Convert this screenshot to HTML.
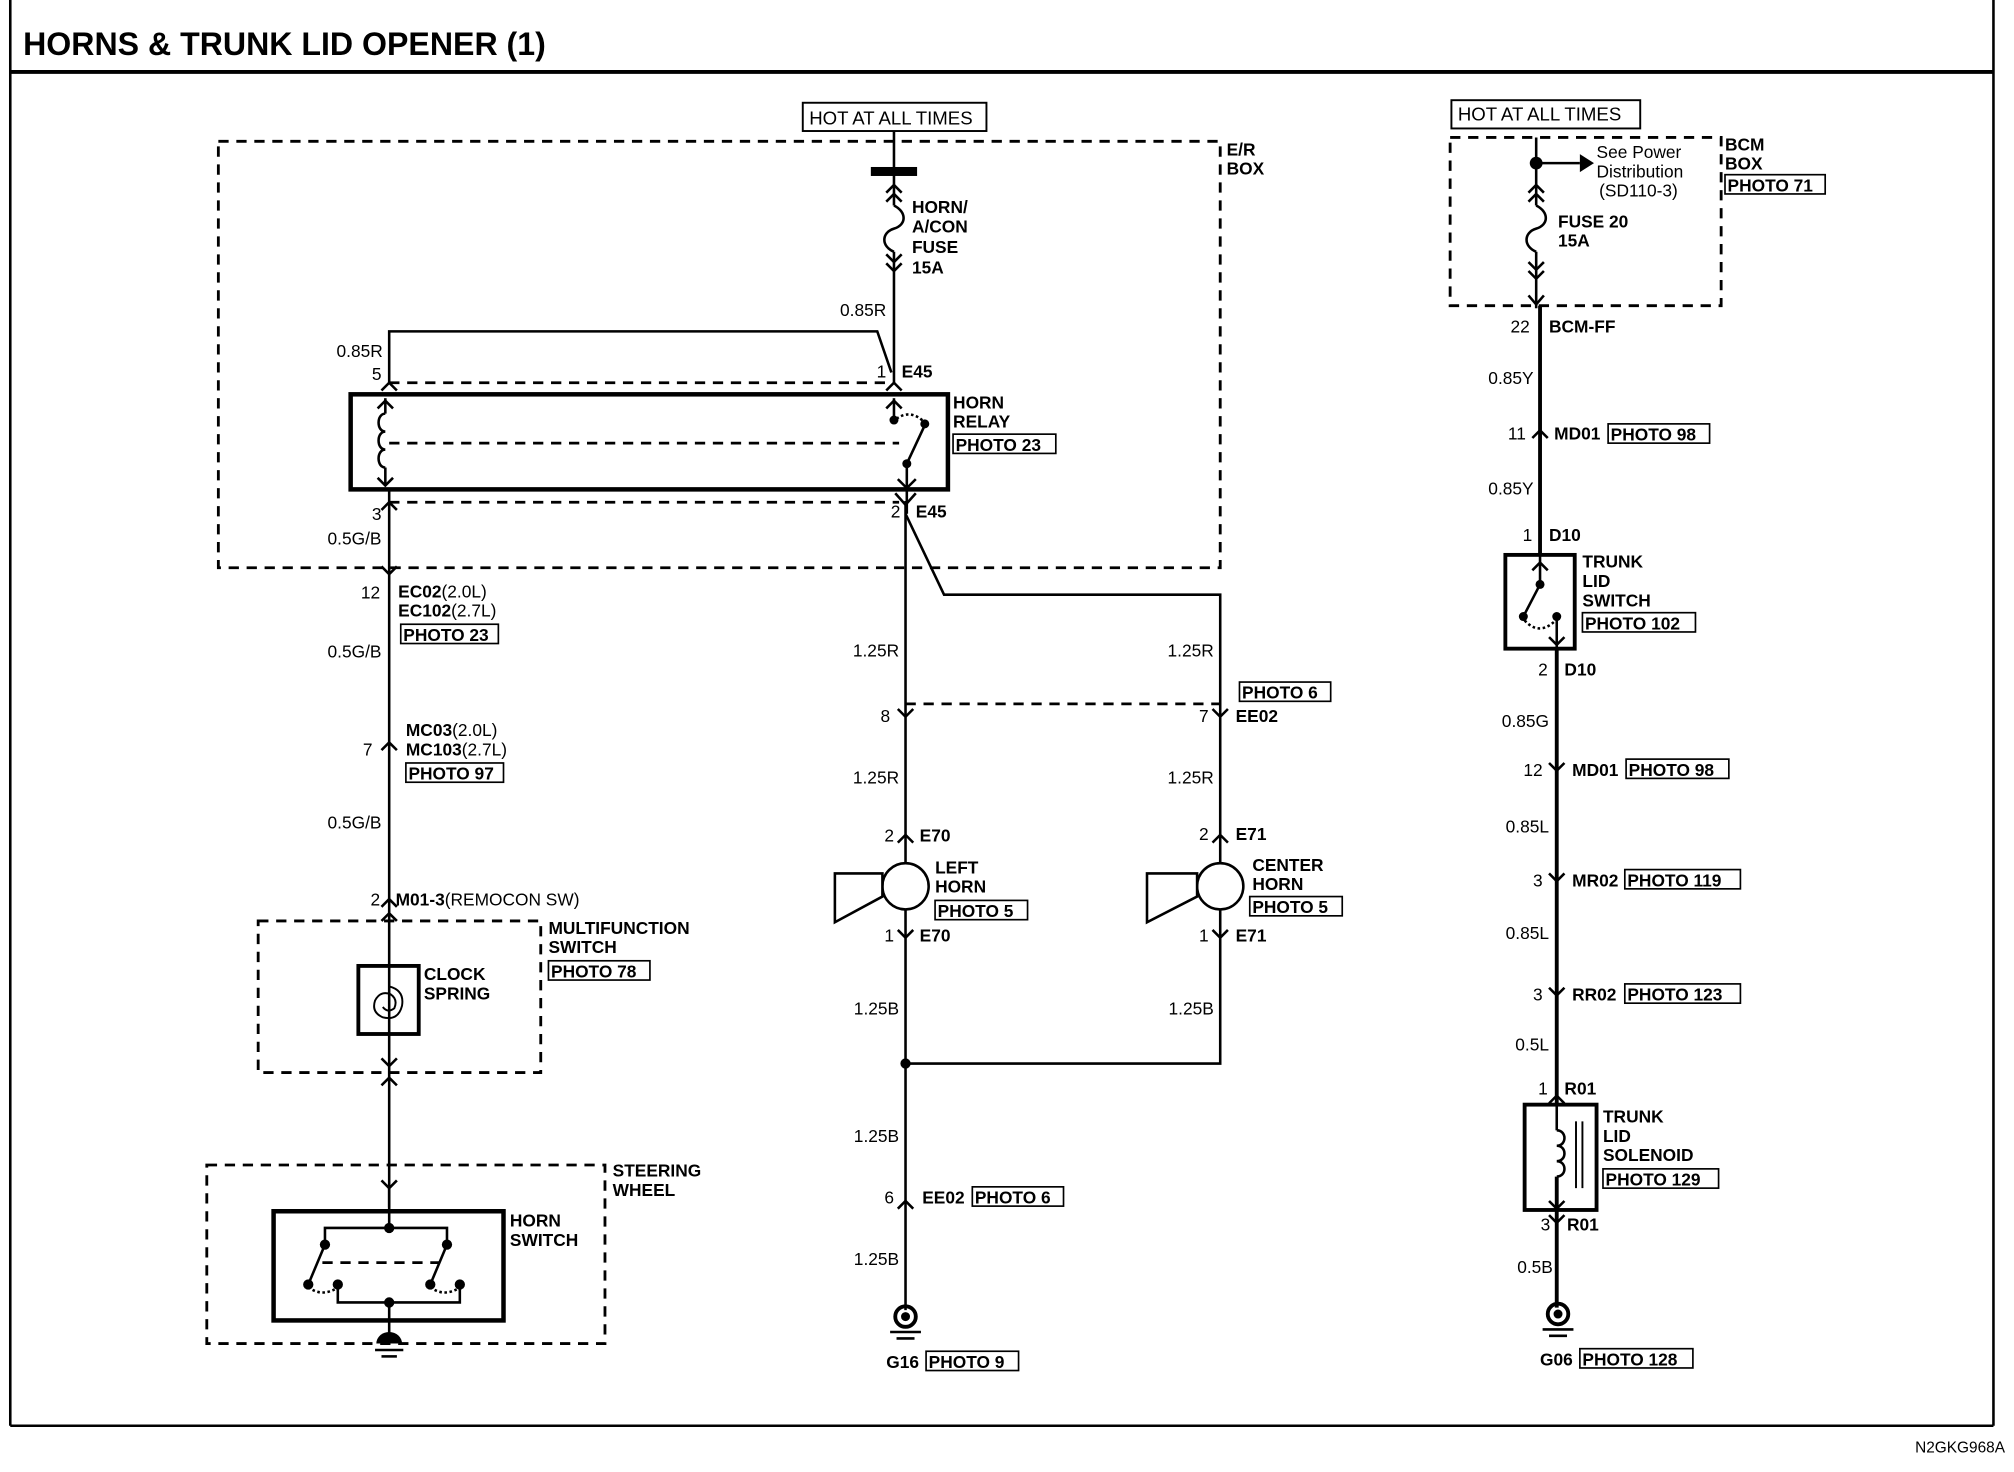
<!DOCTYPE html>
<html><head><meta charset="utf-8"><style>
html,body{margin:0;padding:0;background:#fff;}
svg{display:block;}
text{font-family:"Liberation Sans",Arial,sans-serif;font-weight:bold;font-size:13.5px;fill:#000;}
.n{font-weight:normal;}
.r{text-anchor:end;}
</style></head><body>
<svg width="2014" height="1472" viewBox="0 0 1568 1146" preserveAspectRatio="none" xmlns="http://www.w3.org/2000/svg">
<g fill="none" stroke="#000" stroke-width="2">
<!-- frame -->
<line x1="8" y1="0" x2="8" y2="1110"/>
<line x1="1552" y1="0" x2="1552" y2="1110"/>
<line x1="8" y1="56" x2="1552" y2="56" stroke-width="3"/>
<line x1="8" y1="1110" x2="1552" y2="1110"/>
<!-- HOT boxes -->
<rect x="625" y="80" width="143" height="22" stroke-width="1.5"/>
<rect x="1130" y="78" width="147" height="22" stroke-width="1.5"/>
<!-- dashed boxes -->
<g stroke-dasharray="8,6" stroke-width="2.2">
<rect x="170" y="110" width="780" height="332"/>
<rect x="1129" y="107" width="211" height="131"/>
<rect x="201" y="717" width="220" height="118"/>
<rect x="161" y="907" width="310" height="139"/>
<line x1="303" y1="298" x2="690" y2="298"/>
<line x1="303" y1="345" x2="700" y2="345"/>
<line x1="303" y1="391" x2="700" y2="391"/>
<line x1="705" y1="548" x2="950" y2="548"/>
<line x1="251" y1="983" x2="342" y2="983"/>
</g>
<!-- ER fuse -->
<line x1="696" y1="102" x2="696" y2="131"/>
<line x1="696" y1="136" x2="696" y2="160"/>
<path d="M690,150 L696,144 L702,150 M690,157 L696,151 L702,157"/>
<path d="M696,160 C706,165 706,175 696,178 C686,181 686,192 696,196"/>
<line x1="696" y1="196" x2="696" y2="298"/>
<path d="M690,198 L696,204 L702,198 M690,205 L696,211 L702,205"/>
<path d="M690,304 L696,298 L702,304"/>
<!-- pin5 wire -->
<path d="M303,298 L303,258 L683,258 L694,290"/>
<path d="M297,304 L303,298 L309,304"/>
<!-- relay -->
<rect x="273" y="307" width="465" height="74" stroke-width="3.5"/>
<line x1="300" y1="310" x2="300" y2="322"/>
<path d="M300,322 c-7,0 -7,14 0,14 c-7,0 -7,14 0,14 c-7,0 -7,14 0,14"/>
<line x1="300" y1="364" x2="300" y2="378"/>
<path d="M294,318 L300,312 L306,318 M294,372 L300,378 L306,372"/>
<line x1="696" y1="310" x2="696" y2="327"/>
<path d="M690,318 L696,312 L702,318"/>
<path d="M698,326 Q709,318 720,329" stroke-dasharray="2,2"/>
<line x1="706" y1="361" x2="720" y2="331"/>
<line x1="706" y1="361" x2="706" y2="400"/>
<path d="M699,373 L706,380 L713,373"/>
<line x1="303" y1="381" x2="303" y2="940"/>
<path d="M297,397 L303,391 L309,397"/>
<path d="M697,384 L705,393 L713,384"/>
<!-- left connectors -->
<path d="M297,441 L303,447 L309,441"/>
<path d="M297,584 L303,578 L309,584"/>
<path d="M297,706 L303,700 L309,706"/>
<path d="M297,717 L303,711 L309,717"/>
<path d="M297,824 L303,830 L309,824"/>
<path d="M297,845 L303,839 L309,845"/>
<path d="M297,919 L303,925 L309,919"/>
<rect x="279" y="752" width="47" height="53" stroke-width="3"/>
<path d="M303,768 Q315,771 313,783 Q310,795 298,792 Q289,788 292,779 Q296,771 304,774 Q310,778 307,785 Q302,789 298,784" stroke-width="1.5"/>
<!-- horn switch -->
<rect x="213" y="943" width="179" height="85" stroke-width="3.5"/>
<path d="M303,925 L303,956 M253,969 L253,956 L348,956 L348,969 M253,969 L240,1000 M348,969 L335,1000 M263,1000 L263,1014 L358,1014 L358,1000 M303,1014 L303,1040"/>
<path d="M240,1002 Q250,1010 262,1003 M335,1002 Q345,1010 357,1003" stroke-dasharray="2,2"/>
<!-- middle -->
<line x1="705" y1="390" x2="705" y2="1020"/>
<path d="M705,400 L735,463 L950,463 L950,828 L705,828"/>
<path d="M699,552 L705,558 L711,552 M944,552 L950,558 L956,552"/>
<path d="M699,656 L705,650 L711,656 M944,656 L950,650 L956,656"/>
<path d="M699,724 L705,730 L711,724 M944,724 L950,730 L956,724"/>
<path d="M699,941 L705,935 L711,941"/>
<circle cx="705" cy="690" r="18" fill="#fff"/>
<circle cx="950" cy="690" r="18" fill="#fff"/>
<path d="M650,680 L687,680 L687,698 L650,718 Z" fill="#fff"/>
<path d="M893,680 L932,680 L932,698 L893,718 Z" fill="#fff"/>
<!-- right -->
<line x1="1196" y1="107" x2="1196" y2="160"/>
<line x1="1196" y1="127" x2="1230" y2="127"/>
<path d="M1190,150 L1196,144 L1202,150 M1190,157 L1196,151 L1202,157"/>
<path d="M1196,160 C1206,165 1206,175 1196,178 C1186,181 1186,192 1196,196"/>
<line x1="1196" y1="196" x2="1196" y2="240"/>
<path d="M1190,204 L1196,210 L1202,204 M1190,211 L1196,217 L1202,211 M1190,230 L1196,237 L1202,230"/>
<line x1="1199" y1="238" x2="1199" y2="432" stroke-width="3"/>
<path d="M1193,341 L1199,335 L1205,341"/>
<rect x="1172" y="432" width="54" height="73" stroke-width="3"/>
<path d="M1199,432 L1199,455 M1199,455 L1186,480 M1212,480 L1212,505"/>
<path d="M1193,444 L1199,438 L1205,444 M1206,496 L1212,502 L1218,496"/>
<path d="M1187,483 Q1198,495 1210,484" stroke-dasharray="2,2"/>
<line x1="1212" y1="505" x2="1212" y2="860" stroke-width="3"/>
<path d="M1206,594 L1212,600 L1218,594 M1206,680 L1212,686 L1218,680 M1206,769 L1212,775 L1218,769 M1206,859 L1212,853 L1218,859"/>
<rect x="1187" y="860" width="56" height="82" stroke-width="3"/>
<line x1="1212" y1="860" x2="1212" y2="880"/>
<path d="M1212,880 c8,0 8,12 0,12 c8,0 8,12 0,12 c8,0 8,12 0,12"/>
<line x1="1212" y1="916" x2="1212" y2="1018" stroke-width="3"/>
<line x1="1227" y1="873" x2="1227" y2="925" stroke-width="1.5"/>
<line x1="1232" y1="873" x2="1232" y2="925" stroke-width="1.5"/>
<path d="M1206,935 L1212,941 L1218,935 M1206,946 L1212,952 L1218,946"/>
</g>
<!-- fills -->
<g fill="#000">
<rect x="678" y="130" width="36" height="7"/>
<circle cx="696" cy="327" r="3.5"/><circle cx="720" cy="330" r="3.5"/><circle cx="706" cy="361" r="3.5"/>
<circle cx="303" cy="956" r="4"/><circle cx="253" cy="969" r="4"/><circle cx="348" cy="969" r="4"/>
<circle cx="240" cy="1000" r="4"/><circle cx="263" cy="1000" r="4"/><circle cx="335" cy="1000" r="4"/><circle cx="358" cy="1000" r="4"/>
<circle cx="303" cy="1014" r="4"/>
<circle cx="705" cy="828" r="4"/>
<circle cx="1196" cy="127" r="5"/>
<path d="M1230,120 L1241,127 L1230,134 Z"/>
<circle cx="1186" cy="480" r="3.5"/><circle cx="1212" cy="480" r="3.5"/><circle cx="1199" cy="455" r="3.5"/>
<!-- grounds -->
<path d="M293,1046 A10,9 0 0 1 313,1046 Z"/>
</g>
<g stroke="#000" stroke-width="2" fill="none">
<line x1="292" y1="1051" x2="314" y2="1051"/><line x1="297" y1="1056" x2="309" y2="1056"/>
<circle cx="705" cy="1025" r="8" stroke-width="3"/><circle cx="705" cy="1025" r="2.5" fill="#000"/>
<line x1="693" y1="1037" x2="717" y2="1037"/><line x1="698" y1="1042" x2="712" y2="1042"/>
<circle cx="1213" cy="1023" r="8" stroke-width="3"/><circle cx="1213" cy="1023" r="2.5" fill="#000"/>
<line x1="1201" y1="1035" x2="1225" y2="1035"/><line x1="1206" y1="1040" x2="1220" y2="1040"/>
</g>
<!-- photo boxes -->
<g fill="none" stroke="#000" stroke-width="1.3">
<rect x="742" y="338" width="80" height="15"/>
<rect x="312" y="486" width="76" height="15"/>
<rect x="316" y="594" width="76" height="15"/>
<rect x="427" y="748" width="79" height="15"/>
<rect x="728" y="701" width="72" height="15"/>
<rect x="973" y="698" width="72" height="15"/>
<rect x="965" y="531" width="71" height="15"/>
<rect x="757" y="924" width="71" height="15"/>
<rect x="721" y="1052" width="72" height="15"/>
<rect x="1343" y="136" width="78" height="15"/>
<rect x="1252" y="330" width="79" height="15"/>
<rect x="1232" y="477" width="88" height="15"/>
<rect x="1266" y="591" width="80" height="15"/>
<rect x="1265" y="677" width="90" height="15"/>
<rect x="1265" y="766" width="90" height="15"/>
<rect x="1248" y="910" width="90" height="15"/>
<rect x="1230" y="1050" width="88" height="15"/>
</g>
<!-- text -->
<text x="18" y="43" style="font-size:25px">HORNS &amp; TRUNK LID OPENER (1)</text>
<text x="630" y="97" class="n" style="font-size:14.5px">HOT AT ALL TIMES</text>
<text x="1135" y="94" class="n" style="font-size:14.5px">HOT AT ALL TIMES</text>
<text x="955" y="121">E/R</text><text x="955" y="136">BOX</text>
<text x="710" y="166">HORN/</text><text x="710" y="181">A/CON</text><text x="710" y="197">FUSE</text><text x="710" y="213">15A</text>
<text x="690" y="246" class="r n">0.85R</text>
<text x="298" y="278" class="r n">0.85R</text>
<text x="297" y="296" class="r n">5</text>
<text x="690" y="294" class="r n">1</text><text x="702" y="294">E45</text>
<text x="742" y="318">HORN</text><text x="742" y="333">RELAY</text><text x="744" y="351">PHOTO 23</text>
<text x="297" y="405" class="r n">3</text><text x="297" y="424" class="r n">0.5G/B</text>
<text x="701" y="403" class="r n">2</text><text x="713" y="403">E45</text>
<text x="296" y="466" class="r n">12</text><text x="310" y="465">EC02<tspan class="n">(2.0L)</tspan></text><text x="310" y="480">EC102<tspan class="n">(2.7L)</tspan></text><text x="314" y="499">PHOTO 23</text>
<text x="297" y="512" class="r n">0.5G/B</text>
<text x="290" y="588" class="r n">7</text><text x="316" y="573">MC03<tspan class="n">(2.0L)</tspan></text><text x="316" y="588">MC103<tspan class="n">(2.7L)</tspan></text><text x="318" y="607">PHOTO 97</text>
<text x="297" y="645" class="r n">0.5G/B</text>
<text x="296" y="705" class="r n">2</text><text x="308" y="705">M01-3<tspan class="n">(REMOCON SW)</tspan></text>
<text x="427" y="727">MULTIFUNCTION</text><text x="427" y="742">SWITCH</text><text x="429" y="761">PHOTO 78</text>
<text x="330" y="763">CLOCK</text><text x="330" y="778">SPRING</text>
<text x="477" y="916">STEERING</text><text x="477" y="931">WHEEL</text>
<text x="397" y="955">HORN</text><text x="397" y="970">SWITCH</text>
<text x="700" y="511" class="r n">1.25R</text>
<text x="693" y="562" class="r n">8</text>
<text x="700" y="610" class="r n">1.25R</text>
<text x="696" y="655" class="r n">2</text><text x="716" y="655">E70</text>
<text x="728" y="680">LEFT</text><text x="728" y="695">HORN</text><text x="730" y="714">PHOTO 5</text>
<text x="696" y="733" class="r n">1</text><text x="716" y="733">E70</text>
<text x="700" y="790" class="r n">1.25B</text>
<text x="700" y="889" class="r n">1.25B</text>
<text x="696" y="937" class="r n">6</text><text x="718" y="937">EE02</text><text x="759" y="937">PHOTO 6</text>
<text x="700" y="985" class="r n">1.25B</text>
<text x="690" y="1065">G16</text><text x="723" y="1065">PHOTO 9</text>
<text x="945" y="511" class="r n">1.25R</text>
<text x="967" y="544">PHOTO 6</text>
<text x="941" y="562" class="r n">7</text><text x="962" y="562">EE02</text>
<text x="945" y="610" class="r n">1.25R</text>
<text x="941" y="654" class="r n">2</text><text x="962" y="654">E71</text>
<text x="975" y="678">CENTER</text><text x="975" y="693">HORN</text><text x="975" y="711">PHOTO 5</text>
<text x="941" y="733" class="r n">1</text><text x="962" y="733">E71</text>
<text x="945" y="790" class="r n">1.25B</text>
<text x="1243" y="123" class="n">See Power</text><text x="1243" y="138" class="n">Distribution</text><text x="1245" y="153" class="n">(SD110-3)</text>
<text x="1343" y="117">BCM</text><text x="1343" y="132">BOX</text><text x="1345" y="149">PHOTO 71</text>
<text x="1213" y="177">FUSE 20</text><text x="1213" y="192">15A</text>
<text x="1191" y="259" class="r n">22</text><text x="1206" y="259">BCM-FF</text>
<text x="1194" y="299" class="r n">0.85Y</text>
<text x="1188" y="342" class="r n">11</text><text x="1210" y="342">MD01</text><text x="1254" y="343">PHOTO 98</text>
<text x="1194" y="385" class="r n">0.85Y</text>
<text x="1193" y="421" class="r n">1</text><text x="1206" y="421">D10</text>
<text x="1232" y="442">TRUNK</text><text x="1232" y="457">LID</text><text x="1232" y="472">SWITCH</text><text x="1234" y="490">PHOTO 102</text>
<text x="1205" y="526" class="r n">2</text><text x="1218" y="526">D10</text>
<text x="1206" y="566" class="r n">0.85G</text>
<text x="1201" y="604" class="r n">12</text><text x="1224" y="604">MD01</text><text x="1268" y="604">PHOTO 98</text>
<text x="1206" y="648" class="r n">0.85L</text>
<text x="1201" y="690" class="r n">3</text><text x="1224" y="690">MR02</text><text x="1267" y="690">PHOTO 119</text>
<text x="1206" y="731" class="r n">0.85L</text>
<text x="1201" y="779" class="r n">3</text><text x="1224" y="779">RR02</text><text x="1267" y="779">PHOTO 123</text>
<text x="1206" y="818" class="r n">0.5L</text>
<text x="1205" y="852" class="r n">1</text><text x="1218" y="852">R01</text>
<text x="1248" y="874">TRUNK</text><text x="1248" y="889">LID</text><text x="1248" y="904">SOLENOID</text><text x="1250" y="923">PHOTO 129</text>
<text x="1207" y="958" class="r n">3</text><text x="1220" y="958">R01</text>
<text x="1209" y="991" class="r n">0.5B</text>
<text x="1199" y="1063">G06</text><text x="1232" y="1063">PHOTO 128</text>
<text x="1491" y="1131" class="n" style="font-size:12px">N2GKG968A</text>
</svg>
</body></html>
